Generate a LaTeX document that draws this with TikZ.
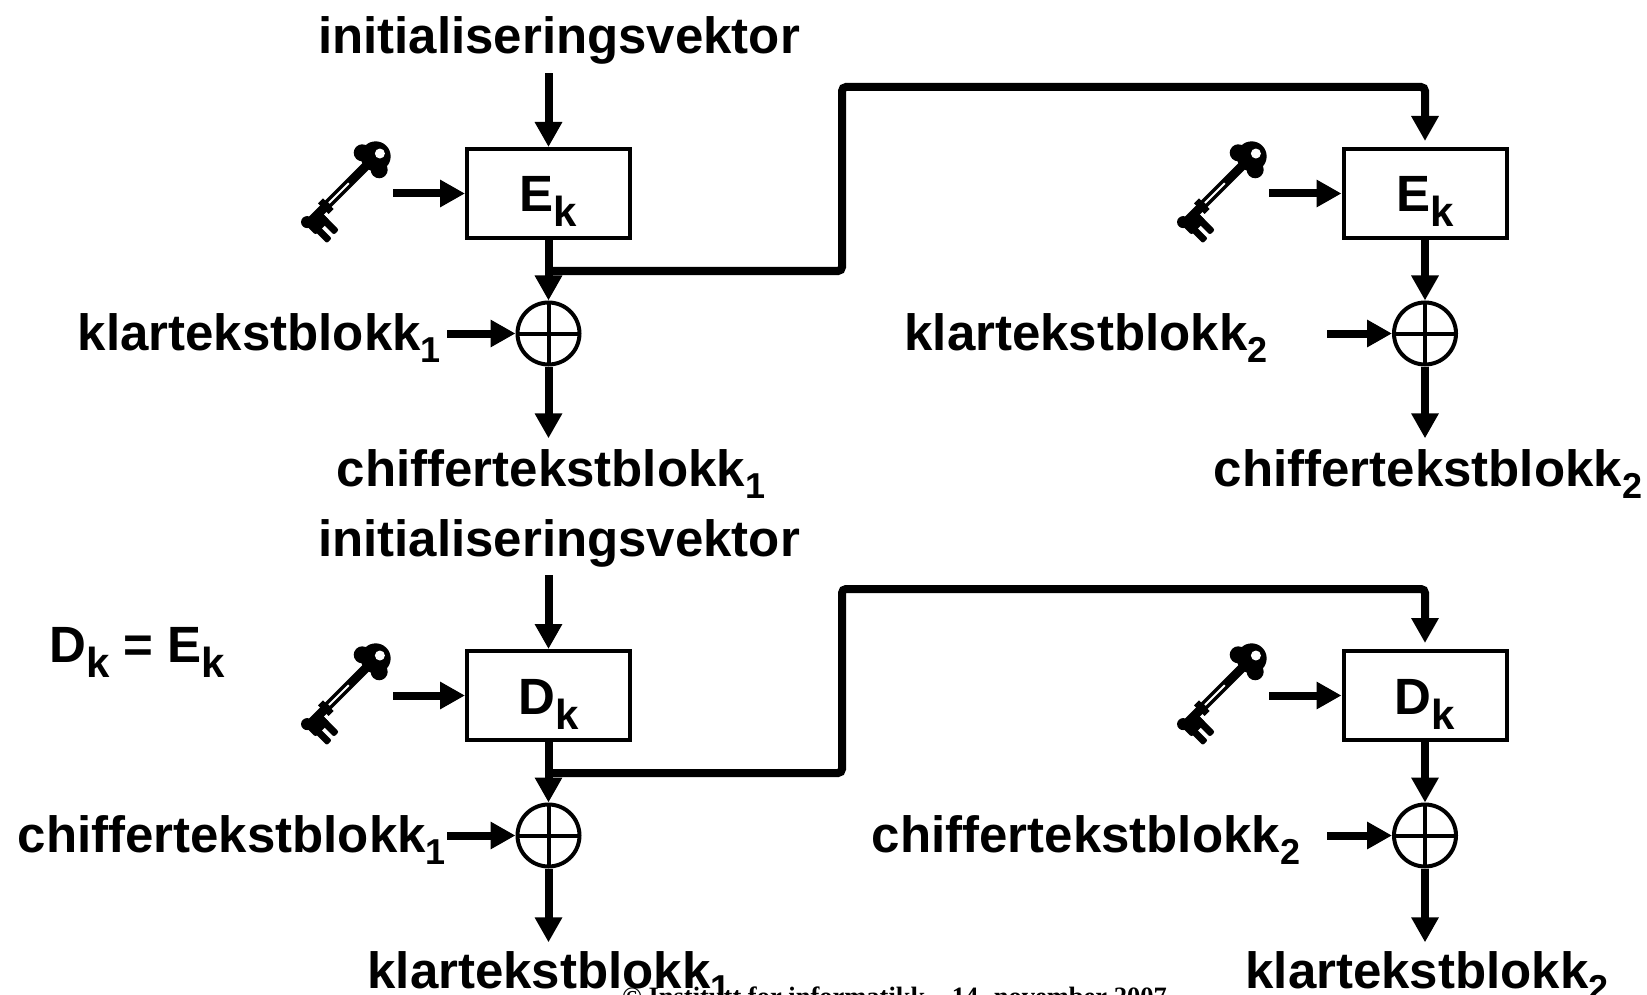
\documentclass[tikz,border=0pt]{standalone}
\usepackage{fontspec}
\setmainfont{Liberation Sans}
\newfontfamily\serfont{Liberation Serif}
\usetikzlibrary{arrows.meta,calc}
\newcommand\lblsize{\fontsize{51}{60}\selectfont\bfseries}
\newcommand\lsub[1]{\raisebox{-12pt}{\fontsize{36}{36}\selectfont\bfseries #1}}
\newcommand\ksub[1]{\raisebox{-15pt}{\fontsize{42}{42}\selectfont\bfseries #1}}
\tikzset{
  keyicon/.pic={
    \begin{scope}[x=1pt,y=1pt,rotate=225]
      \fill (-8,0) circle (15);
      \fill (-1,-12) circle (8.5);
      \fill (-1,12) circle (8.5);
      \fill[white] (-13,1) circle (5);
      \fill (4,-4.5) rectangle (86,4.5);
      \fill[white] (30,-1) rectangle (58,1);
      \fill (59,-7.5) rectangle (66,7.5);
      \fill[rounded corners=2pt] (70,-3) rectangle (90,13);
      \fill[rounded corners=2pt] (70,0) rectangle (77,26);
      \fill[rounded corners=2pt] (81,0) rectangle (88,27);
      \fill (87,-2) circle (6);
    \end{scope}
  },
  arr/.style={line width=8pt,-{Triangle[length=25pt,width=26pt]}},
  link/.style={line width=8pt,rounded corners=4pt,-{Triangle[length=25pt,width=26pt]}},
  blk/.style={draw,line width=4pt,minimum width=163pt,minimum height=89pt,inner sep=0pt,
    text height=52pt,text depth=15pt,font=\lblsize},
  xor/.style={draw,circle,line width=4pt,minimum size=62pt,inner sep=0pt,
    path picture={\draw[line width=4pt] (path picture bounding box.north) -- (path picture bounding box.south)
      (path picture bounding box.west) -- (path picture bounding box.east);}},
  lbl/.style={inner sep=0pt,font=\lblsize},
  keyspot/.style={inner sep=0pt,minimum width=86pt,minimum height=96pt},
  foot/.style={inner sep=0pt,font=\serfont\bfseries\fontsize{26.5}{30}\selectfont}
}
\begin{document}
\begin{tikzpicture}[x=1pt,y=-1pt]
\useasboundingbox (0,0) rectangle (1647,995);
\clip (0,0) rectangle (1647,995);
\fill[white] (0,0) rectangle (1647,995);

\node[foot,anchor=base] (footer) at (894.5,1005) {© Institutt for informatikk – 14. november 2007};

% ---------- encryption ----------
\node[lbl,anchor=base] (iv1) at (559,54) {initialiseringsvektor};
\node[blk] (e1) at (548.5,193.5) {E\ksub{k}};
\node[blk] (e2) at (1425,193.5) {E\ksub{k}};
\node[keyspot] (k1) at (350,190) {};
\node[keyspot] (k2) at (1226,190) {};
\pic at ($(k1.center)+(20,-28)$) {keyicon};
\pic at ($(k2.center)+(20,-28)$) {keyicon};
\node[xor] (x1) at (548.5,333.5) {};
\node[xor] (x2) at (1425,333.5) {};
\node[lbl,anchor=base east] (p1) at (441,350) {klartekstblokk\lsub{1}};
\node[lbl,anchor=base] (p2) at (1086,350) {klartekstblokk\lsub{2}};
\coordinate (in2) at (1327,333.5);
\node[lbl,anchor=base] (c1) at (551,486) {chiffertekstblokk\lsub{1}};
\node[lbl,anchor=base] (c2) at (1428,486) {chiffertekstblokk\lsub{2}};
\coordinate (t1) at (548.5,271);
\coordinate (u1) at (842,271);
\coordinate (u2) at (842,87);

\draw[arr,shorten <=8pt] (iv1.south -| e1.north) -- (e1.north);
\draw[arr] (k1.east |- e1.west) -- (e1.west);
\draw[arr] (k2.east |- e2.west) -- (e2.west);
\draw[arr] (e1.south) -- (x1.north);
\draw[arr] (e2.south) -- (x2.north);
\draw[arr,shorten <=6pt] (p1.east |- x1.west) -- (x1.west);
\draw[arr] (in2) -- (x2.west);
\draw[arr,shorten >=10.5pt] (x1.south) -- (x1.south |- c1.north);
\draw[arr,shorten >=10.5pt] (x2.south) -- (x2.south |- c2.north);
\draw[link,shorten >=6pt] (t1) -- (u1) -- (u2) -| (e2.north);

% ---------- decryption ----------
\node[lbl,anchor=base west] (eq) at (49,662) {D\ksub{k} = E\ksub{k}};
\node[lbl,anchor=base] (iv2) at (559,556) {initialiseringsvektor};
\node[blk] (d1) at (548.5,695.5) {D\ksub{k}};
\node[blk] (d2) at (1425,695.5) {D\ksub{k}};
\node[keyspot] (k3) at (350,692) {};
\node[keyspot] (k4) at (1226,692) {};
\pic at ($(k3.center)+(20,-28)$) {keyicon};
\pic at ($(k4.center)+(20,-28)$) {keyicon};
\node[xor] (x3) at (548.5,835.5) {};
\node[xor] (x4) at (1425,835.5) {};
\node[lbl,anchor=base east] (q1) at (446,852) {chiffertekstblokk\lsub{1}};
\node[lbl,anchor=base] (q2) at (1086,852) {chiffertekstblokk\lsub{2}};
\coordinate (in4) at (1327,835.5);
\node[lbl,anchor=base] (r1) at (549,988) {klartekstblokk\lsub{1}};
\node[lbl,anchor=base] (r2) at (1427,988) {klartekstblokk\lsub{2}};
\coordinate (t2) at (548.5,773);
\coordinate (u3) at (842,773);
\coordinate (u4) at (842,589);

\draw[arr,shorten <=8pt] (iv2.south -| d1.north) -- (d1.north);
\draw[arr] (k3.east |- d1.west) -- (d1.west);
\draw[arr] (k4.east |- d2.west) -- (d2.west);
\draw[arr] (d1.south) -- (x3.north);
\draw[arr] (d2.south) -- (x4.north);
\draw[arr,shorten <=1pt] (q1.east |- x3.west) -- (x3.west);
\draw[arr] (in4) -- (x4.west);
\draw[arr,shorten >=8.5pt] (x3.south) -- (x3.south |- r1.north);
\draw[arr,shorten >=8.5pt] (x4.south) -- (x4.south |- r2.north);
\draw[link,shorten >=6pt] (t2) -- (u3) -- (u4) -| (d2.north);
\end{tikzpicture}
\end{document}
